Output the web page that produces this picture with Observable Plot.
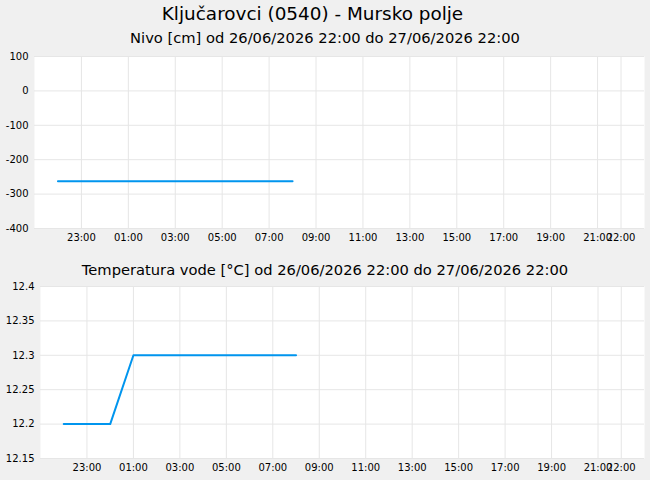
<!DOCTYPE html>
<html>
<head>
<meta charset="utf-8">
<script src="https://cdn.jsdelivr.net/npm/d3@7"></script>
<script src="https://cdn.jsdelivr.net/npm/@observablehq/plot@0.6"></script>
<style>
  html, body { margin: 0; padding: 0; background: #f0f0f0; }
  #wrap { width: 650px; height: 480px; overflow: hidden; font-family: "DejaVu Sans", sans-serif; color: #000; }
  .title { height: 28px; line-height: 28px; font-size: 18.4px; text-align: center; padding-right: 25px; }
  .sub1 { height: 20px; line-height: 20px; font-size: 14.7px; text-align: center; }
  .sub2 { height: 24px; line-height: 24px; font-size: 14.7px; text-align: center; }
  svg { display: block; }
</style>
</head>
<body>
<div id="wrap">
  <div class="title" id="t0"></div>
  <div class="sub1" id="t1"></div>
  <div id="p1"></div>
  <div class="sub2" id="t2"></div>
  <div id="p2"></div>
</div>
<script>
const mainTitle = "Ključarovci (0540) - Mursko polje";
const levelTitle = "Nivo [cm] od 26/06/2026 22:00 do 27/06/2026 22:00";
const tempTitle = "Temperatura vode [°C] od 26/06/2026 22:00 do 27/06/2026 22:00";

// hourly readings, 26/06/2026 22:00 .. 27/06/2026 08:00
const times = ["2026-06-26T22:00", "2026-06-26T23:00", "2026-06-27T00:00", "2026-06-27T01:00",
  "2026-06-27T02:00", "2026-06-27T03:00", "2026-06-27T04:00", "2026-06-27T05:00",
  "2026-06-27T06:00", "2026-06-27T07:00", "2026-06-27T08:00"];
const levelValues = [-263, -263, -263, -263, -263, -263, -263, -263, -263, -263, -263];
const tempValues = [12.2, 12.2, 12.2, 12.3, 12.3, 12.3, 12.3, 12.3, 12.3, 12.3, 12.3];

const xDomain = ["2026-06-26T21:00", "2026-06-27T23:00"];
const xTicks = ["2026-06-26T23:00", "2026-06-27T01:00", "2026-06-27T03:00", "2026-06-27T05:00",
  "2026-06-27T07:00", "2026-06-27T09:00", "2026-06-27T11:00", "2026-06-27T13:00",
  "2026-06-27T15:00", "2026-06-27T17:00", "2026-06-27T19:00", "2026-06-27T21:00",
  "2026-06-27T22:00"];
const levelTicks = [100, 0, -100, -200, -300, -400];
const tempTicks = [12.15, 12.2, 12.25, 12.3, 12.35, 12.4];

const toDate = s => new Date(s + ":00Z");
const fmt = d3.utcFormat("%H:%M");
const levelData = times.map((t, i) => ({ t: toDate(t), v: levelValues[i] }));
const tempData = times.map((t, i) => ({ t: toDate(t), v: tempValues[i] }));

document.getElementById("t0").textContent = mainTitle;
document.getElementById("t1").textContent = levelTitle;
document.getElementById("t2").textContent = tempTitle;

function chart(data, yTicks, opts) {
  const xt = xTicks.map(toDate);
  return Plot.plot({
    width: 650,
    height: opts.height,
    marginTop: opts.mt,
    marginBottom: opts.mb,
    marginLeft: opts.ml,
    marginRight: 6,
    style: { background: "transparent", fontFamily: "DejaVu Sans, sans-serif", fontSize: "10px", color: "#000" },
    x: { type: "utc", domain: xDomain.map(toDate), ticks: xt, tickFormat: fmt, tickSize: 0, tickPadding: 5, label: null },
    y: { domain: [d3.min(yTicks), d3.max(yTicks)], ticks: yTicks, tickFormat: d => String(+d.toFixed(2)), tickSize: 0, tickPadding: 6, label: null },
    marks: [
      Plot.frame({ fill: "white", stroke: null }),
      Plot.gridX(xt, { stroke: "#e6e6e6", strokeOpacity: 1 }),
      Plot.gridY(yTicks, { stroke: "#e6e6e6", strokeOpacity: 1 }),
      Plot.axisX({ ticks: xt, tickFormat: fmt, tickSize: 0, tickPadding: 5, fill: "#000" }),
      Plot.axisY({ ticks: yTicks, tickFormat: d => String(+d.toFixed(2)), tickSize: 0, tickPadding: 6, fill: "#000" }),
      Plot.line(data, { x: "t", y: "v", stroke: "#0095ee", strokeWidth: 2 })
    ]
  });
}

document.getElementById("p1").appendChild(chart(levelData, levelTicks, { height: 210, mt: 8, mb: 30, ml: 34 }));
document.getElementById("p2").appendChild(chart(tempData, tempTicks, { height: 198, mt: 4, mb: 22, ml: 40 }));
</script>
</body>
</html>
